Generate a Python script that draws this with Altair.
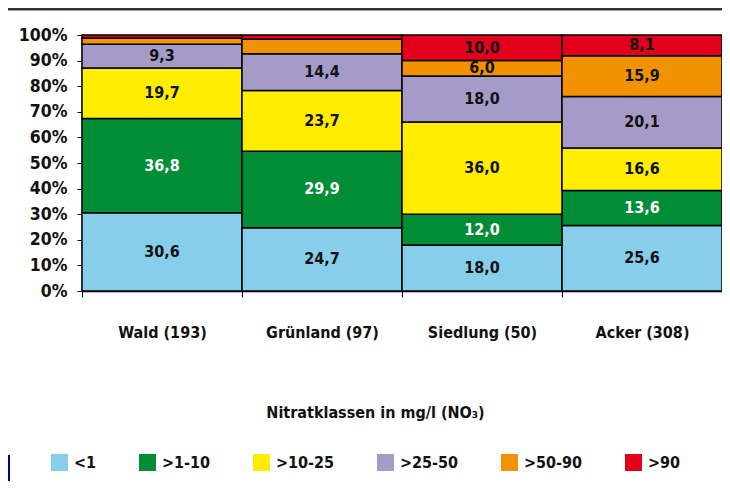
import altair as alt
import pandas as pd

categories = ["Wald (193)", "Grünland (97)", "Siedlung (50)", "Acker (308)"]
classes = ["<1", ">1-10", ">10-25", ">25-50", ">50-90", ">90"]
colors = ["#87CEEB", "#008D36", "#FFED00", "#A59BC8", "#F39200", "#E2001A"]

v_lt1 = [30.6, 24.7, 18.0, 25.6]
v_1_10 = [36.8, 29.9, 12.0, 13.6]
v_10_25 = [19.7, 23.7, 36.0, 16.6]
v_25_50 = [9.3, 14.4, 18.0, 20.1]
v_50_90 = [2.4, 5.6, 6.0, 15.9]
v_gt90 = [1.2, 1.7, 10.0, 8.1]
series = [v_lt1, v_1_10, v_10_25, v_25_50, v_50_90, v_gt90]

unlabeled = [("Wald (193)", ">50-90"), ("Wald (193)", ">90"),
             ("Grünland (97)", ">50-90"), ("Grünland (97)", ">90")]

y_ticks = [round(i / 10, 1) for i in range(11)]

rows = []
for ci, cls in enumerate(classes):
    for ki, cat in enumerate(categories):
        rows.append({"cat": cat, "cls": cls, "order": ci, "v": series[ci][ki],
                     "show": (cat, cls) not in unlabeled})
df = pd.DataFrame(rows)

FONT = "DejaVu Sans Condensed"

base = alt.Chart(df).transform_stack(
    stack="v", groupby=["cat"], sort=[alt.SortField("order", order="ascending")],
    as_=["y0", "y1"], offset="normalize"
).transform_calculate(
    ymid="(datum.y0 + datum.y1) / 2",
    lbl="datum.show ? replace(format(datum.v, '.1f'), '.', ',') : ''"
)

xaxis = alt.Axis(title="Nitratklassen in mg/l (NO₃)", tickBand="extent", labelAngle=0,
                 labelFont=FONT, labelFontSize=16, labelFontWeight="bold", labelColor="#111",
                 labelPadding=27, tickSize=6, tickColor="black", domainColor="black",
                 domainWidth=1.5, titleFont=FONT, titleFontSize=16, titleFontWeight="bold",
                 titleColor="#111", titleX=293, titleY=121, titleBaseline="middle",
                 titleAlign="center")
yaxis = alt.Axis(values=y_ticks, format=".0%", grid=False, labelFont=FONT,
                 labelFontSize=17.5, labelFontWeight="bold", labelColor="#111",
                 labelOverlap=False, tickSize=5, tickColor="black",
                 domainColor="black", domainWidth=1.5, labelPadding=10)
xscale = alt.Scale(paddingInner=0, paddingOuter=0)
yscale = alt.Scale(domain=[0, 1])

bars = base.mark_bar(stroke="black", strokeWidth=1.5).encode(
    x=alt.X("cat:N", sort=categories, scale=xscale, axis=xaxis),
    y=alt.Y("y0:Q", scale=yscale, title=None, axis=yaxis),
    y2="y1:Q",
    color=alt.Color("cls:N", scale=alt.Scale(domain=classes, range=colors),
                    legend=alt.Legend(title=None, orient="none", direction="horizontal",
                                      legendX=-31, legendY=419, symbolType="square",
                                      symbolSize=289, symbolStrokeWidth=0, labelFont=FONT,
                                      labelFontSize=16, labelFontWeight="bold", labelColor="#111",
                                      labelOffset=6, columnPadding=42, columns=6)),
)

text = base.mark_text(font=FONT, fontSize=16, fontWeight="bold").encode(
    x=alt.X("cat:N", sort=categories, scale=xscale, axis=xaxis),
    y=alt.Y("ymid:Q", scale=yscale, title=None, axis=yaxis),
    text="lbl:N",
    color=alt.condition(alt.datum.cls == ">1-10", alt.value("white"), alt.value("#111")),
)

one = pd.DataFrame({"a": [0]})
topline = alt.Chart(one).mark_rule(color="#333", strokeWidth=3).encode(
    x=alt.value(-74), x2=alt.value(640), y=alt.value(-26))
sideline = alt.Chart(one).mark_rule(color="#000080", strokeWidth=2).encode(
    x=alt.value(-73), y=alt.value(420), y2=alt.value(446))

chart = alt.layer(bars, text, topline, sideline).properties(
    width=640, height=256, autosize="none",
    padding={"left": 74, "top": 27, "right": 0, "bottom": 190},
).configure_view(stroke=None)

chart.save("out.html", embed_options={"renderer": "svg", "actions": False})
